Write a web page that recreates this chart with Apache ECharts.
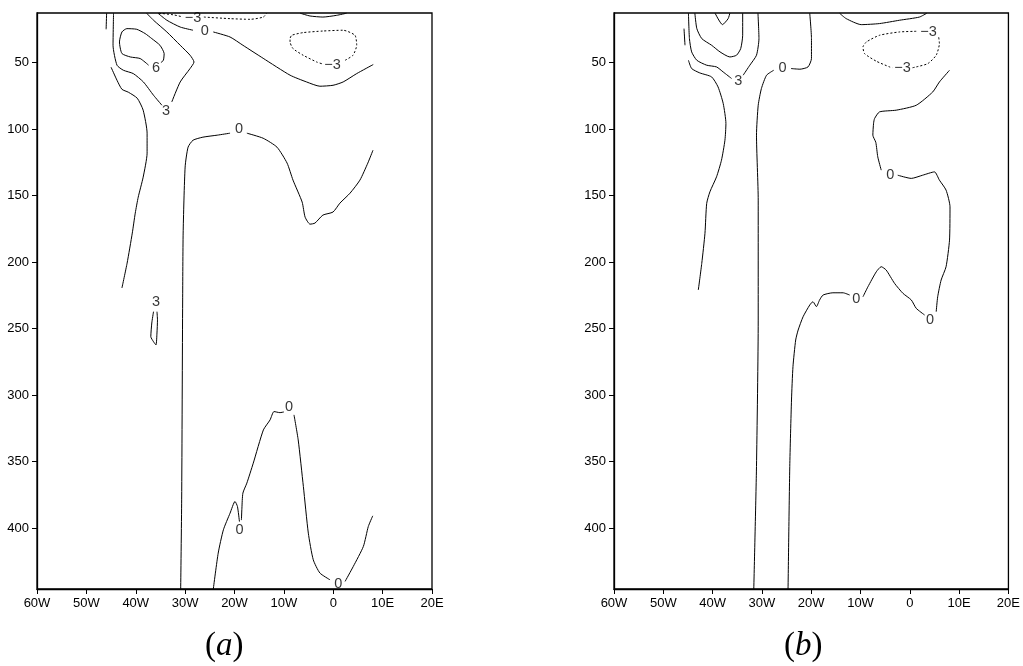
<!DOCTYPE html>
<html>
<head>
<meta charset="utf-8">
<script src="https://cdn.jsdelivr.net/npm/echarts@6/dist/echarts.min.js"></script>
<style>
  html, body { margin: 0; padding: 0; background: #fff; }
  #chart { width: 1023px; height: 666px; }
</style>
</head>
<body>
<div id="chart"></div>
<script>
// ---- axes ----
const lonTicks = [-60, -50, -40, -30, -20, -10, 0, 10, 20];
const lonTickLabels = ['60W', '50W', '40W', '30W', '20W', '10W', '0', '10E', '20E'];
const depthTicks = [50, 100, 150, 200, 250, 300, 350, 400];
const depthTop = 12.75;
const depthBottom = 445.8;

// ---- panel (a): contour pieces as [lon, depth]; gaps are left where labels sit ----
const aStubWest = [[-45.9, 13], [-46.0, 25]];
const aPos3North1 = [[-44.5, 12.9], [-44.6, 37.0], [-43.8, 52.0], [-42.5, 55.8], [-40.5, 58.3], [-38.45, 64.6], [-36.4, 74.6], [-34.7, 82.1]];
const aPos3North2 = [[-32.7, 79.6], [-31.0, 64.6], [-29.0, 54.5], [-28.2, 49.6], [-29.0, 44.5], [-31.0, 37.0], [-33.7, 27.0], [-36.4, 18.2], [-37.8, 12.9]];
const aPos6 = [[-34.9, 50.0], [-34.4, 48.3], [-34.25, 43.3], [-35.1, 37.0], [-36.75, 32.0], [-38.1, 28.2], [-39.8, 25.0], [-41.8, 24.5], [-42.8, 27.0], [-43.3, 34.5], [-42.8, 43.2], [-41.1, 45.8], [-39.1, 47.0], [-37.4, 52.0]];
const aPos3West = [[-45.0, 53.5], [-43.8, 63.3], [-42.8, 70.1], [-41.5, 72.3], [-39.7, 76.8], [-38.5, 85.8], [-37.7, 103.1], [-37.7, 118.1], [-38.5, 136.2], [-39.5, 151.2], [-40.1, 163.2], [-40.7, 178.2], [-41.75, 200.8], [-42.8, 219.5]];
const aPos3Cell = [[-36.4, 237.3], [-36.75, 245.8], [-36.95, 256.1], [-36.4, 259.9], [-35.9, 262.3], [-35.7, 253.3], [-35.6, 243.6], [-35.7, 237.3]];
const aNeg3North1 = [[-35.3, 12.9], [-32.4, 14.1], [-30.6, 15.6]];
const aNeg3North2 = [[-26.2, 15.8], [-20.9, 17.0], [-16.85, 17.5], [-14.15, 15.8], [-13.5, 12.9]];
const aZeroNorth1 = [[-35.5, 12.9], [-33.7, 18.2], [-31.0, 23.3], [-28.4, 25.7]];
const aZeroNorth2 = [[-24.3, 27.0], [-20.9, 30.8], [-18.3, 37.0], [-14.2, 46.8], [-8.75, 59.5], [-5.4, 64.6], [-2.7, 67.8], [-0.05, 67.1], [2.0, 64.6], [4.75, 58.3], [8.1, 51.5]];
const aZeroArcNE = [[-6.7, 12.9], [-4.7, 15.0], [-2.1, 15.8], [0.7, 14.5], [2.7, 12.9]];
const aNeg3Loop = [[2.4, 48.3], [4.0, 44.5], [4.75, 37.0], [4.4, 29.5], [2.0, 25.7], [-2.1, 26.3], [-6.1, 27.5], [-8.4, 29.5], [-8.75, 32.0], [-8.75, 34.5], [-8.15, 39.5], [-6.1, 44.5], [-3.35, 49.6], [-2.3, 50.9]];
const aZeroMain1 = [[-30.9, 446], [-30.7, 378.8], [-30.5, 228.5], [-30.4, 178.2], [-30.0, 128.6], [-29.4, 113.6], [-28.4, 108.4], [-26.4, 106.1], [-23.5, 104.6], [-20.9, 103.1]];
const aZeroMain2 = [[-17.5, 103.1], [-14.2, 106.9], [-11.4, 113.6], [-9.35, 125.6], [-8.15, 138.4], [-6.3, 154.9], [-5.7, 166.2], [-4.7, 171.5], [-3.7, 170.7], [-2.1, 164.7], [-0.05, 162.4], [1.35, 155.7], [3.4, 148.2], [5.4, 138.4], [7.0, 125.6], [8.05, 115.9]];
const aZeroDeep1 = [[-24.3, 446], [-23.3, 418.8], [-22.25, 401.3], [-20.9, 388.8], [-19.9, 380.0], [-19.4, 383.8], [-19.0, 395.1]];
const aZeroDeep2 = [[-18.6, 394.0], [-18.5, 385.0], [-18.3, 373.7], [-17.5, 366.2], [-16.2, 351.2], [-14.15, 326.2], [-12.8, 318.7], [-12.0, 312.4], [-10.8, 313.2], [-10.0, 312.7]];
const aZeroDeep3 = [[-7.95, 314.9], [-7.1, 333.7], [-6.05, 368.8], [-5.05, 403.8], [-4.05, 423.8], [-2.7, 433.8], [-0.65, 438.9]];
const aZeroDeep4 = [[2.4, 440.1], [4.05, 428.9], [6.1, 413.8], [7.1, 398.8], [8.0, 390.8]];
const aLabels = [
  [-33.85, 86.6, '3'], [-35.9, 53.8, '6'], [-35.9, 230.0, '3'], [-28.4, 16.5, '\u22123'],
  [-26.0, 26.5, '0'], [-0.15, 51.5, '\u22123'], [-19.1, 100.1, '0'],
  [-19.0, 401.8, '0'], [-8.95, 308.7, '0'], [1.0, 441.9, '0']
];

// ---- panel (b) ----
const bStubWest = [[-45.8, 24.5], [-45.6, 37.0]];
const bPos3West = [[-44.9, 48.3], [-44.25, 54.5], [-42.6, 57.8], [-40.2, 60.8], [-38.9, 68.3], [-37.85, 80.8], [-37.3, 95.8], [-37.5, 108.4], [-38.2, 123.4], [-39.2, 135.9], [-40.55, 147.2], [-41.2, 155.9], [-41.55, 178.4], [-42.2, 201.0], [-42.9, 221.0]];
const bPos3North1 = [[-44.9, 12.9], [-44.7, 32.0], [-44.25, 42.0], [-43.2, 48.3], [-41.2, 52.0], [-39.2, 53.3], [-37.85, 57.1], [-36.15, 62.0]];
const bPos3North2 = [[-33.8, 59.5], [-32.45, 52.0], [-31.1, 44.5], [-30.6, 32.0], [-30.8, 12.9]];
const bPos6 = [[-43.6, 12.9], [-43.2, 24.5], [-42.2, 32.0], [-40.2, 37.0], [-38.5, 42.0], [-36.5, 45.8], [-35.15, 44.5], [-34.3, 39.5], [-33.9, 29.5], [-33.9, 12.9]];
const bPos9 = [[-39.5, 12.9], [-38.0, 21.5], [-36.85, 17.0], [-36.5, 12.9]];
const bZeroMain1 = [[-20.3, 12.9], [-19.95, 32.0], [-19.95, 47.0], [-20.65, 53.3], [-22.3, 55.0], [-24.1, 54.5]];
const bZeroMain2 = [[-27.6, 55.8], [-29.05, 59.5], [-30.1, 69.5], [-30.75, 82.1], [-31.1, 104.6], [-30.75, 153.4], [-30.75, 243.6], [-31.1, 353.7], [-31.65, 446]];
const bZeroArcNE = [[-14.25, 12.9], [-12.9, 17.0], [-9.85, 21.5], [-6.15, 20.7], [-2.1, 18.2], [1.95, 15.8], [3.45, 12.9]];
const bNeg3Loop1 = [[1.3, 26.5], [-2.1, 27.0], [-6.15, 29.5], [-8.8, 34.5], [-9.5, 38.3], [-9.2, 43.2], [-6.8, 49.0], [-4.1, 53.3], [-3.5, 53.9]];
const bNeg3Loop2 = [[0.55, 53.9], [1.3, 53.3], [3.65, 50.8], [5.35, 44.5], [6.0, 35.7], [5.85, 30.8]];
const bZeroEast1 = [[8.05, 55.8], [6.0, 64.6], [4.65, 72.1], [1.3, 82.1], [-2.75, 85.8], [-6.15, 87.1], [-7.15, 92.1], [-7.35, 95.6], [-7.5, 104.6], [-6.9, 110.0], [-6.5, 120.9], [-5.8, 130.9]];
const bZeroEast2 = [[-2.45, 134.7], [0.3, 137.1], [2.6, 134.7], [5.0, 132.2], [6.0, 138.4], [7.35, 145.9], [8.15, 158.5], [8.05, 183.5], [7.35, 203.5], [6.35, 213.5], [5.65, 226.1], [5.35, 237.3]];
const bZeroEast3 = [[3.0, 239.8], [1.3, 234.8], [0.3, 228.5], [-1.4, 223.5], [-3.1, 216.0], [-4.8, 206.0], [-5.8, 203.5], [-6.8, 207.3], [-8.5, 218.6], [-9.5, 226.1]];
const bZeroEast4 = [[-12.2, 224.8], [-13.55, 223.1], [-15.6, 223.1], [-17.6, 224.8], [-18.3, 228.5], [-18.95, 233.5], [-19.65, 229.8], [-20.3, 232.3], [-21.65, 241.1], [-22.65, 251.1], [-23.15, 258.6], [-23.7, 278.6], [-24.0, 303.7], [-24.35, 353.7], [-24.7, 446]];
const bLabels = [
  [-34.8, 64.1, '3'], [-25.8, 54.1, '0'], [3.8, 27.4, '\u22123'], [-1.5, 54.3, '\u22123'],
  [-3.95, 134.7, '0'], [4.1, 243.2, '0'], [-10.85, 228.0, '0']
];

const tickFont = { fontFamily: 'Liberation Sans', fontSize: 13, color: '#000' };

function lines(grid, pieces, dashed) {
  return pieces.map(p => ({
    type: 'line', xAxisIndex: grid, yAxisIndex: grid,
    data: p, showSymbol: false, symbol: 'none', smooth: 0.2, clip: true,
    silent: true, animation: false,
    lineStyle: { color: '#000', width: 1, type: dashed ? [2, 2] : 'solid' }
  }));
}

function labels(grid, list) {
  return {
    type: 'scatter', xAxisIndex: grid, yAxisIndex: grid, silent: true, animation: false,
    symbol: 'circle', symbolSize: 1, itemStyle: { color: 'rgba(0,0,0,0)' },
    data: list.map(l => ({ value: [l[0], l[1]], name: l[2] })),
    label: {
      show: true, position: 'inside', formatter: '{b}',
      fontFamily: 'Liberation Sans', fontSize: 14.5, color: '#000'
    },
    z: 5
  };
}

function xAxis(grid) {
  return {
    type: 'value', gridIndex: grid, min: -60, max: 20, interval: 10,
    axisLine: { show: true, onZero: false, lineStyle: { color: '#000', width: 1.3 } },
    axisTick: { show: true, length: 5, lineStyle: { color: '#000', width: 1 } },
    splitLine: { show: false },
    axisLabel: Object.assign({ margin: 8, formatter: v => lonTickLabels[lonTicks.indexOf(v)] }, tickFont)
  };
}

function yAxis(grid) {
  return {
    type: 'value', gridIndex: grid, inverse: true, min: depthTop, max: depthBottom,
    axisLine: { show: true, onZero: false, lineStyle: { color: '#000', width: 1.3 } },
    axisTick: { show: true, length: 5, customValues: depthTicks, lineStyle: { color: '#000', width: 1 } },
    splitLine: { show: false },
    axisLabel: Object.assign({ margin: 8, customValues: depthTicks }, tickFont)
  };
}

const captionRich = {
  p: { fontFamily: 'Liberation Serif', fontWeight: 'normal', fontSize: 33, color: '#000' },
  i: { fontFamily: 'Liberation Serif', fontWeight: 'normal', fontStyle: 'italic', fontSize: 33, color: '#000' }
};

const chart = echarts.init(document.getElementById('chart'), null, { renderer: 'canvas' });
chart.setOption({
  backgroundColor: '#fff',
  animation: false,
  title: [
    { text: '{p|(}{i|a}{p|)}', left: 205, top: 630, padding: 0, textStyle: { fontWeight: 'normal', rich: captionRich } },
    { text: '{p|(}{i|b}{p|)}', left: 784, top: 630, padding: 0, textStyle: { fontWeight: 'normal', rich: captionRich } }
  ],
  grid: [
    { left: 37, top: 13, width: 395, height: 576, show: true, borderColor: '#000', borderWidth: 1.3 },
    { left: 614, top: 13, width: 395, height: 576, show: true, borderColor: '#000', borderWidth: 1.3 }
  ],
  xAxis: [xAxis(0), xAxis(1)],
  yAxis: [yAxis(0), yAxis(1)],
  series: [].concat(
    lines(0, [aStubWest, aPos3North1, aPos3North2, aPos6, aPos3West, aPos3Cell,
              aZeroNorth1, aZeroNorth2, aZeroArcNE, aZeroMain1, aZeroMain2,
              aZeroDeep1, aZeroDeep2, aZeroDeep3, aZeroDeep4], false),
    lines(0, [aNeg3North1, aNeg3North2, aNeg3Loop], true),
    [labels(0, aLabels)],
    lines(1, [bStubWest, bPos3West, bPos3North1, bPos3North2, bPos6, bPos9,
              bZeroMain1, bZeroMain2, bZeroArcNE, bZeroEast1, bZeroEast2, bZeroEast3, bZeroEast4], false),
    lines(1, [bNeg3Loop1, bNeg3Loop2], true),
    [labels(1, bLabels)]
  )
});
</script>
</body>
</html>
